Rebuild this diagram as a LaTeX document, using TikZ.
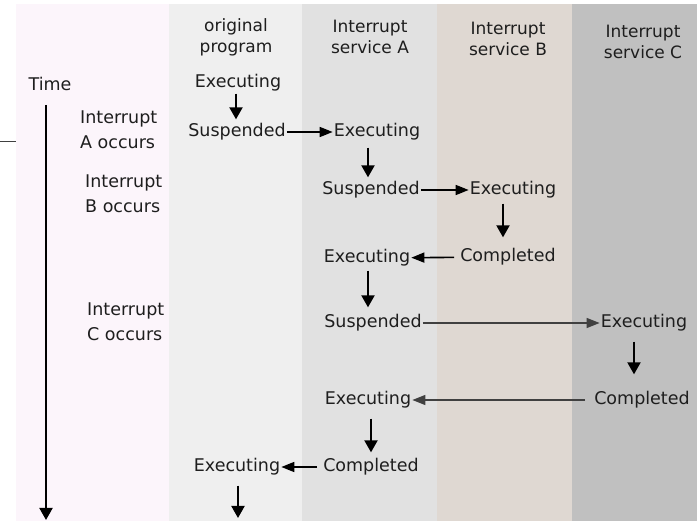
\documentclass[tikz,border=0pt]{standalone}
\usepackage{fontspec}
\setmainfont{DejaVu Sans}
\usepackage{tikz}
\usetikzlibrary{arrows.meta,positioning}
\definecolor{PinkBack}{HTML}{FCF5FB}
\definecolor{OrigGray}{HTML}{EFEFEF}
\definecolor{AGray}{HTML}{E1E1E1}
\definecolor{BBeige}{HTML}{DFD8D2}
\definecolor{CGray}{HTML}{C0C0C0}
\definecolor{TextGray}{HTML}{1E1E1E}
\definecolor{LineGray}{HTML}{404040}

\begin{document}
\begin{tikzpicture}[x=1pt,y=-1pt,
    lbl/.style={font=\fontsize{17.5}{25}\selectfont,text=TextGray,inner sep=1pt},
    side/.style={lbl,align=left,anchor=west},
    head/.style={font=\fontsize{17}{21}\selectfont,text=TextGray,align=center},
    darr/.style={-{Triangle[length=12pt,width=13pt]},line width=2pt,shorten <=1pt,shorten >=3pt},
    harr/.style={-{Triangle[length=13pt,width=10pt]},line width=1.6pt},
    longarr/.style={-{Triangle[length=13pt,width=10pt]},line width=1.2pt,draw=LineGray}]
  \useasboundingbox (0,0) rectangle (697,521);
  % background bands
  \fill[PinkBack] (16,4) rectangle (169,521);
  \fill[OrigGray] (169,4) rectangle (302,521);
  \fill[AGray] (302,4) rectangle (437,521);
  \fill[BBeige] (437,4) rectangle (572,521);
  \fill[CGray] (572,4) rectangle (697,521);
  \draw[LineGray,line width=0.8pt] (0,141) -- (16,141);

  % column heads
  \node[head] (hOrig) at (236,37) {original\\program};
  \node[head] (hA) at (370,37) {Interrupt\\service A};
  \node[head] (hB) at (508,39) {Interrupt\\service B};
  \node[head] (hC) at (643,42) {Interrupt\\service C};

  % time axis
  \node[lbl] (time) at (50,84) {Time};
  \coordinate (tTop) at (46,105);
  \coordinate (tEnd) at (46,520);
  \draw[darr,shorten <=0pt,shorten >=0pt] (tTop) -- (tEnd);
  \node[side] (intA) at (79,130) {Interrupt\\A occurs};
  \node[side] (intB) at (84,194) {Interrupt\\B occurs};
  \node[side] (intC) at (86,322) {Interrupt\\C occurs};

  % states
  \node[lbl] (exeO1) at (238,83) {Executing};
  \node[lbl] (susO1) at (237,132) {Suspended};
  \node[lbl] (exeA1) at (377,132) {Executing};
  \node[lbl] (susA1) at (371,190) {Suspended};
  \node[lbl] (exeB1) at (513,190) {Executing};
  \node[lbl] (comB1) at (508,257) {Completed};
  \node[lbl] (exeA2) at (367,258) {Executing};
  \node[lbl] (susA2) at (373,323) {Suspended};
  \node[lbl] (exeC1) at (644,323) {Executing};
  \node[lbl] (comC1) at (642,400) {Completed};
  \node[lbl] (exeA3) at (368,400) {Executing};
  \node[lbl] (comA1) at (371,467) {Completed};
  \node[lbl] (exeO2) at (237,467) {Executing};
  \coordinate (oEnd) at (238,518);

  % flow
  \draw[darr] (exeO1.south -| 236,0) -- (susO1.north -| 236,0);
  \draw[harr] (susO1) -- (exeA1);
  \draw[darr,shorten <=6pt] (exeA1.south -| 368,0) -- (susA1.north -| 368,0);
  \draw[harr] (susA1) -- (exeB1);
  \draw[darr,shorten <=4pt,shorten >=10pt] (exeB1.south -| 503,0) -- (comB1.north -| 503,0);
  \draw[harr,shorten <=5pt] (comB1) -- (exeA2);
  \draw[darr,shorten <=3pt,shorten >=6pt] (exeA2.south -| 368,0) -- (susA2.north -| 368,0);
  \draw[longarr] (susA2) -- (exeC1);
  \draw[darr,shorten <=9pt,shorten >=16pt] (exeC1.south -| 634,0) -- (comC1.north -| 634,0);
  \draw[longarr,shorten <=8pt] (comC1) -- (exeA3);
  \draw[darr,shorten <=9pt,shorten >=5pt] (exeA3.south -| 371,0) -- (comA1.north -| 371,0);
  \draw[harr,shorten <=5pt] (comA1) -- (exeO2);
  \draw[darr,shorten <=9pt,shorten >=0pt] (exeO2.south -| oEnd) -- (oEnd);
\end{tikzpicture}
\end{document}
